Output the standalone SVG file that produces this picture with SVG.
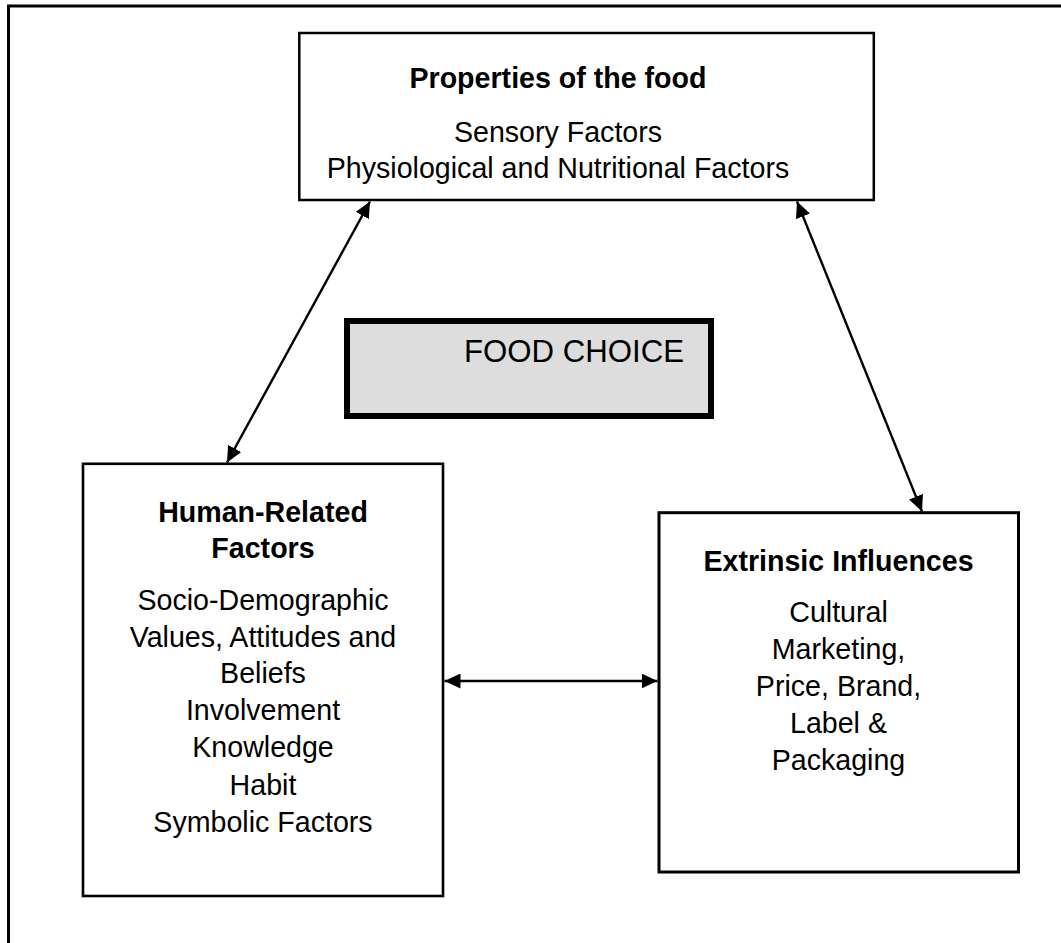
<svg xmlns="http://www.w3.org/2000/svg" width="1061" height="943" viewBox="0 0 1061 943">
<style>
.box{fill:#ffffff;stroke:#000000}
.t{font-family:"Liberation Sans",Arial,sans-serif;font-size:28.6px;fill:#000000;text-anchor:middle}
.b{font-weight:bold}
.conn{stroke:#000000;stroke-width:2.4;fill:none}
</style>
<defs>
<marker id="ah" viewBox="0 0 16 15" refX="16" refY="7.5" markerWidth="16" markerHeight="15" markerUnits="userSpaceOnUse" orient="auto-start-reverse">
<path d="M0,0 L16,7.5 L0,15 Z" fill="#000000"/>
</marker>
</defs>
<rect width="1061" height="943" fill="#ffffff"/>
<rect id="frame" x="8.5" y="6" width="1100" height="1000" fill="none" stroke="#000000" stroke-width="3"/>
<g id="properties">
<rect class="box" x="299.3" y="33" width="574.5" height="167" stroke-width="2.5"/>
<text class="t b" x="558" y="88">Properties of the food</text>
<text class="t" x="558" y="142">Sensory Factors</text>
<text class="t" x="558" y="178">Physiological and Nutritional Factors</text>
</g>
<g id="food-choice">
<rect x="347" y="321" width="364" height="95" fill="#dddddd" stroke="#000000" stroke-width="6"/>
<text class="t" x="574" y="362" style="font-size:31.2px">FOOD CHOICE</text>
</g>
<g id="human">
<rect class="box" x="83" y="463.8" width="360" height="432.2" stroke-width="2.6"/>
<text class="t b" x="263" y="522">Human-Related</text>
<text class="t b" x="263" y="558">Factors</text>
<text class="t" x="263" y="610">Socio-Demographic</text>
<text class="t" x="263" y="647">Values, Attitudes and</text>
<text class="t" x="263" y="683">Beliefs</text>
<text class="t" x="263" y="720">Involvement</text>
<text class="t" x="263" y="757">Knowledge</text>
<text class="t" x="263" y="795">Habit</text>
<text class="t" x="263" y="832">Symbolic Factors</text>
</g>
<g id="extrinsic">
<rect class="box" x="659" y="512.7" width="359.5" height="359.3" stroke-width="3"/>
<text class="t b" x="838.5" y="571">Extrinsic Influences</text>
<text class="t" x="838.5" y="622">Cultural</text>
<text class="t" x="838.5" y="659">Marketing,</text>
<text class="t" x="838.5" y="696">Price, Brand,</text>
<text class="t" x="838.5" y="733">Label &amp;</text>
<text class="t" x="838.5" y="770">Packaging</text>
</g>
<g id="connectors">
<line class="conn" x1="227" y1="462.5" x2="370" y2="201.5" marker-start="url(#ah)" marker-end="url(#ah)"/>
<line class="conn" x1="797" y1="201.5" x2="922" y2="511.5" marker-start="url(#ah)" marker-end="url(#ah)"/>
<line class="conn" x1="444.5" y1="681" x2="657.5" y2="681" marker-start="url(#ah)" marker-end="url(#ah)"/>
</g>
</svg>
